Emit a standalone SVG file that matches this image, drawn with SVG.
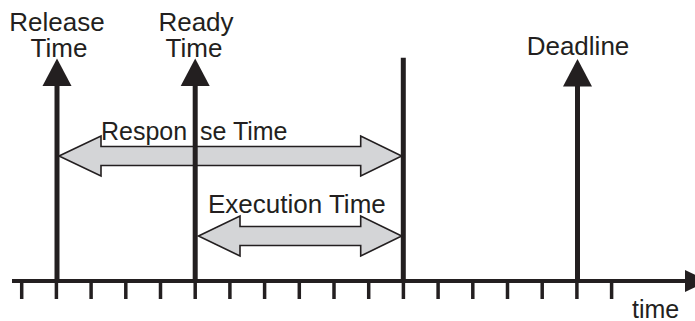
<svg xmlns="http://www.w3.org/2000/svg" width="695" height="321" viewBox="0 0 695 321">
  <defs>
    <style>
      .ink { fill: #231f20; }
      .bar { stroke: #231f20; stroke-width: 5; fill: none; }
      .tick { stroke: #231f20; stroke-width: 3.5; fill: none; }
      .span { fill: #d4d5d7; stroke: #231f20; stroke-width: 1.6; stroke-linejoin: miter; }
      .lbl { font-family: "Liberation Sans", Arial, Helvetica, sans-serif; font-size: 26px; fill: #231f20; }
      .mid { text-anchor: middle; }
    </style>
    <!-- upward event arrowhead, tip at origin -->
    <polygon id="head" points="0,0 -14.5,27.5 14.5,27.5" class="ink"/>
  </defs>

  <rect width="695" height="321" fill="#ffffff"/>

  <!-- time axis with ticks -->
  <g id="axis">
    <line x1="12" y1="281" x2="687" y2="281" stroke="#231f20" stroke-width="4"/>
    <polygon points="685,270 708,281 685,292" class="ink"/>
    <g class="tick">
      <line x1="21.7" y1="281" x2="21.7" y2="299"/>
      <line x1="56.4" y1="281" x2="56.4" y2="299"/>
      <line x1="91.1" y1="281" x2="91.1" y2="299"/>
      <line x1="125.8" y1="281" x2="125.8" y2="299"/>
      <line x1="160.5" y1="281" x2="160.5" y2="299"/>
      <line x1="195.2" y1="281" x2="195.2" y2="299"/>
      <line x1="229.9" y1="281" x2="229.9" y2="299"/>
      <line x1="264.6" y1="281" x2="264.6" y2="299"/>
      <line x1="299.3" y1="281" x2="299.3" y2="299"/>
      <line x1="334" y1="281" x2="334" y2="299"/>
      <line x1="368.7" y1="281" x2="368.7" y2="299"/>
      <line x1="403.4" y1="281" x2="403.4" y2="299"/>
      <line x1="438.1" y1="281" x2="438.1" y2="299"/>
      <line x1="472.8" y1="281" x2="472.8" y2="299"/>
      <line x1="507.5" y1="281" x2="507.5" y2="299"/>
      <line x1="542.2" y1="281" x2="542.2" y2="299"/>
      <line x1="576.9" y1="281" x2="576.9" y2="299"/>
      <line x1="611.6" y1="281" x2="611.6" y2="299"/>
    </g>
    <text class="lbl" x="632" y="317.5" style="font-size:25px">time</text>
  </g>

  <!-- interval connectors -->
  <g id="connectors">
    <g id="response-time">
      <path class="span" d="M59,156 L101,136 L101,146.5 L360.7,146.5 L360.7,136 L401.7,156 L360.7,176 L360.7,165.5 L101,165.5 L101,176 Z"/>
      <text class="lbl" y="140" style="font-size:25px"><tspan x="101">Respon</tspan><tspan x="200">se Time</tspan></text>
    </g>
    <g id="execution-time">
      <path class="span" d="M198.5,236 L240,216 L240,226.5 L360.7,226.5 L360.7,216 L401.7,236 L360.7,256 L360.7,245.5 L240,245.5 L240,256 Z"/>
      <text class="lbl" x="208" y="213">Execution Time</text>
    </g>
  </g>

  <!-- event markers -->
  <g id="release">
    <line class="bar" x1="57" y1="84" x2="57" y2="281"/>
    <use href="#head" x="57" y="58.5"/>
    <text class="lbl mid" x="57" y="31">Release</text>
    <text class="lbl mid" x="59" y="56.5">Time</text>
  </g>

  <g id="ready">
    <line class="bar" x1="195.2" y1="84" x2="195.2" y2="281"/>
    <use href="#head" x="195.2" y="58.5"/>
    <text class="lbl mid" x="196" y="31">Ready</text>
    <text class="lbl mid" x="194" y="56.5">Time</text>
  </g>

  <g id="completion">
    <line class="bar" x1="403.3" y1="57.7" x2="403.3" y2="281"/>
  </g>

  <g id="deadline">
    <line class="bar" x1="577.5" y1="84" x2="577.5" y2="281"/>
    <use href="#head" x="577.5" y="59"/>
    <text class="lbl mid" x="578" y="55">Deadline</text>
  </g>
</svg>
